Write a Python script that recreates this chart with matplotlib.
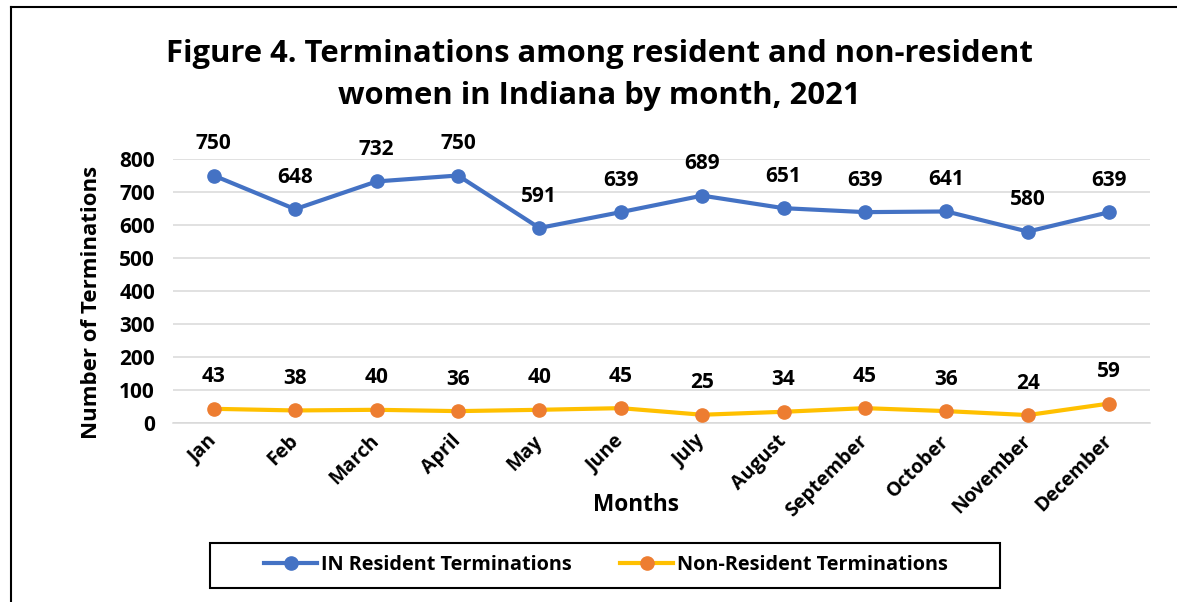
#!/usr/bin/env python3
"""Figure 4: terminations among resident and non-resident women in Indiana, 2021"""

import matplotlib
matplotlib.use("Agg")
import matplotlib.pyplot as plt
from matplotlib.lines import Line2D
from matplotlib.patches import Rectangle

months = ['Jan', 'Feb', 'March', 'April', 'May', 'June', 'July', 'August',
          'September', 'October', 'November', 'December']
resident = [750, 648, 732, 750, 591, 639, 689, 651, 639, 641, 580, 639]
non_resident = [43, 38, 40, 36, 40, 45, 25, 34, 45, 36, 24, 59]
y_ticks = [0, 100, 200, 300, 400, 500, 600, 700, 800]

plt.rcParams['font.family'] = ['Open Sans', 'DejaVu Sans']
plt.rcParams['font.weight'] = 'bold'

W, H = 1177, 602
fig = plt.figure(figsize=(W / 100, H / 100), dpi=100)
ax = fig.add_axes([173 / W, 1 - 423 / H, (1150 - 173) / W, (423 - 159) / H])

x = list(range(len(months)))
ax.plot(x, resident, color='#4472C4', lw=3, marker='o', ms=9.5,
        mfc='#4472C4', mec='#4472C4', zorder=3)
ax.plot(x, non_resident, color='#FFC000', lw=3, marker='o', ms=9.5,
        mfc='#ED7D31', mec='#ED7D31', zorder=3)

# data labels above each point
for series in (resident, non_resident):
    for xi, v in zip(x, series):
        ax.annotate(str(v), (xi, v), xytext=(0, 23), textcoords='offset points',
                    ha='center', va='center', fontsize=15, fontweight='bold',
                    annotation_clip=False)

ax.set_xlim(-0.5, len(months) - 0.5)
ax.set_ylim(0, 800)
ax.set_yticks(y_ticks)
ax.set_yticklabels([str(t) for t in y_ticks], fontsize=15, fontweight='bold')
ax.set_xticks(x)
ax.set_xticklabels(months, rotation=45, ha='right', va='center',
                   rotation_mode='anchor', fontsize=14, fontweight='bold')
ax.tick_params(axis='y', length=0, pad=13)
ax.tick_params(axis='x', length=0, pad=11)
ax.grid(axis='y', color='#D9D9D9', lw=1.1)
ax.set_axisbelow(True)
for side in ['top', 'right', 'left']:
    ax.spines[side].set_visible(False)
ax.spines['bottom'].set_color('#D9D9D9')
ax.spines['bottom'].set_linewidth(1.1)

fig.text(599 / W, 1 - 75 / H,
         'Figure 4. Terminations among resident and non-resident\nwomen in Indiana by month, 2021',
         ha='center', va='center', fontsize=22.3, fontweight='bold', linespacing=1.48)
fig.text(636 / W, 1 - 505 / H, 'Months', ha='center', va='center',
         fontsize=16.3, fontweight='bold')
fig.text(92 / W, 1 - 302 / H, 'Number of Terminations', ha='center', va='center',
         rotation=90, fontsize=16, fontweight='bold')

# legend with a plain black box
handles = [
    Line2D([], [], color='#4472C4', lw=3, marker='o', ms=9.5, mfc='#4472C4', mec='#4472C4'),
    Line2D([], [], color='#FFC000', lw=3, marker='o', ms=9.5, mfc='#ED7D31', mec='#ED7D31'),
]
fig.legend(handles, ['IN Resident Terminations', 'Non-Resident Terminations'],
           loc='center', bbox_to_anchor=(606 / W, 1 - 565 / H), ncol=2,
           frameon=False, handlelength=2.7, handletextpad=0.2,
           columnspacing=2.4, prop={'weight': 'bold', 'size': 14.3})
fig.add_artist(Rectangle((210 / W, 1 - 588 / H), 790 / W, 45 / H,
                         transform=fig.transFigure, fill=False,
                         edgecolor='black', lw=1.5))

# outer frame (left and top edges)
fig.add_artist(Line2D([11 / W, 11 / W], [0, 1 - 7 / H], transform=fig.transFigure,
                      color='black', lw=1.5))
fig.add_artist(Line2D([11 / W, 1], [1 - 7 / H, 1 - 7 / H], transform=fig.transFigure,
                      color='black', lw=1.5))

fig.savefig('out.png', dpi=100)
